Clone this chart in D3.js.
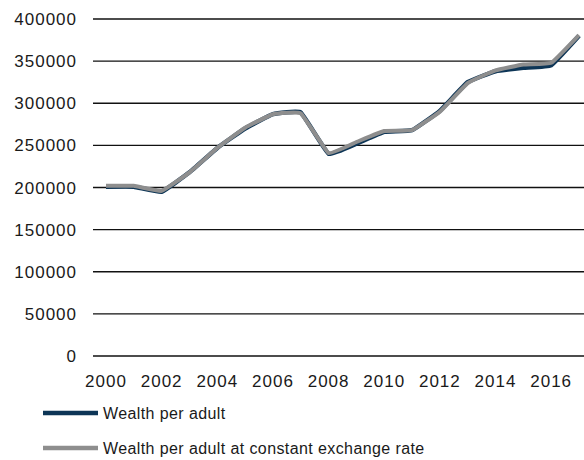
<!DOCTYPE html>
<html><head><meta charset="utf-8">
<script src="https://cdn.jsdelivr.net/npm/d3@7"></script>
<style>body{margin:0;background:#fff}svg{display:block}text{font-family:"Liberation Sans",Arial,sans-serif;fill:#1a1a1a}</style>
</head><body><svg id="c" width="584" height="460"></svg>
<script>
const years = [2000,2001,2002,2003,2004,2005,2006,2007,2008,2009,2010,2011,2012,2013,2014,2015,2016,2017];
const wealthPerAdult = [201000,201000,195000,218000,247000,270000,287000,289000,240000,252000,266000,268000,291000,325000,338000,342000,345000,380000];
const wealthConstFx = [202000,202000,196000,218000,247000,271000,287000,288000,241000,254000,267000,268000,290000,324000,339000,346000,348000,381000];
const yTicks = [0,50000,100000,150000,200000,250000,300000,350000,400000];
const xTickYears = [2000,2002,2004,2006,2008,2010,2012,2014,2016];
const seriesNames = ["Wealth per adult","Wealth per adult at constant exchange rate"];
const colors = ["#0d3556","#8e8e8e"];

const svg = d3.select("#c");
const x = d3.scaleLinear().domain([2000,2017]).range([106,579]);
const y = d3.scaleLinear().domain([0,400000]).range([356,19]);

svg.append("g").selectAll("line").data(yTicks).join("line")
  .attr("x1",93).attr("x2",584).attr("y1",d=>y(d)).attr("y2",d=>y(d))
  .attr("stroke","#111").attr("stroke-width",1.3);

svg.append("g").selectAll("text").data(yTicks).join("text")
  .attr("x",77).attr("y",d=>y(d)).attr("dy","0.36em").attr("text-anchor","end")
  .attr("font-size",17).attr("letter-spacing",1).text(d=>d);

svg.append("g").selectAll("text").data(xTickYears).join("text")
  .attr("x",d=>x(d)).attr("y",381).attr("dy","0.36em").attr("text-anchor","middle")
  .attr("font-size",17).attr("letter-spacing",1).text(d=>d);

const line = d3.line().x((d,i)=>x(years[i])).y(d=>y(d)).curve(d3.curveCardinal.tension(0.7));
[wealthPerAdult, wealthConstFx].forEach((s,i)=>{
  svg.append("path").datum(s).attr("d",line).attr("fill","none")
    .attr("stroke",colors[i]).attr("stroke-width",i?4:4.5).attr("stroke-linejoin","round");
});

const lg = svg.append("g");
seriesNames.forEach((n,i)=>{
  const yy = 413 + i*35;
  lg.append("line").attr("x1",43).attr("x2",98).attr("y1",yy).attr("y2",yy)
    .attr("stroke",colors[i]).attr("stroke-width",4.5);
  lg.append("text").attr("x",103).attr("y",yy).attr("dy","0.36em").attr("font-size",16).attr("letter-spacing",0.4).text(n);
});
</script></body></html>
